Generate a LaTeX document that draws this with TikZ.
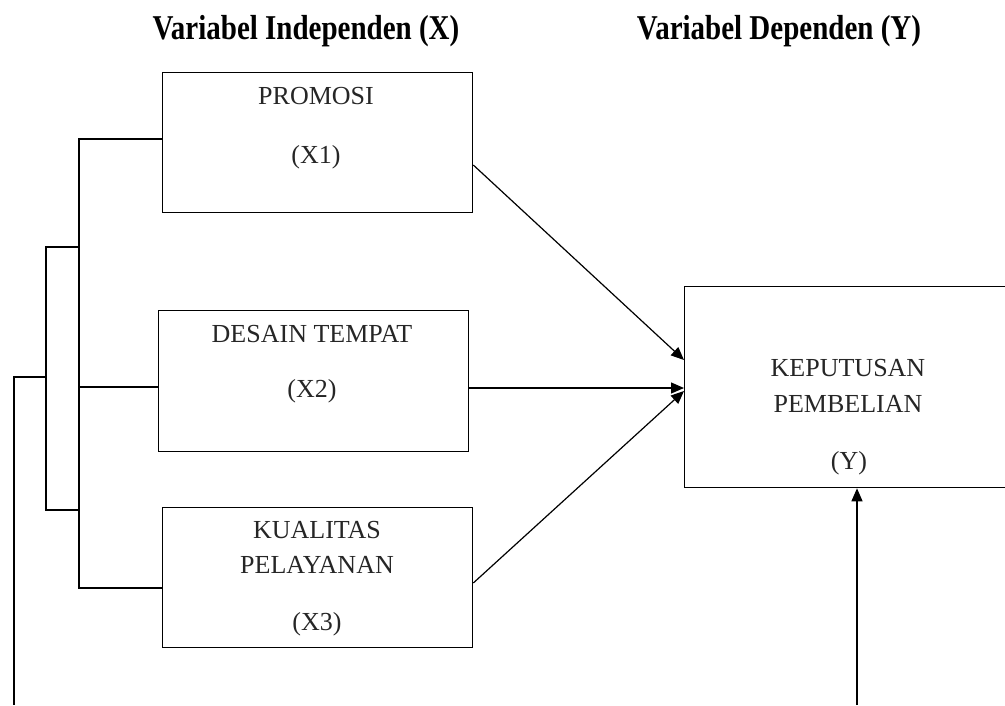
\documentclass[tikz,border=0pt]{standalone}
\usepackage{fontspec}
\setmainfont{Liberation Serif}
\usetikzlibrary{arrows.meta}
\begin{document}
\begin{tikzpicture}[x=1pt,y=-1pt,
  box/.style={draw=black,line width=1.3pt,inner sep=0pt,anchor=north west},
  lbl/.style={font=\fontsize{26}{30}\selectfont,inner sep=0pt,text=black!85},
  hdr/.style={font=\bfseries\fontsize{29}{32}\selectfont,inner sep=0pt},
  wire/.style={line width=1.2pt},
  arr/.style={line width=1.2pt,-{Triangle[length=13pt,width=11pt]}}]
\useasboundingbox (0,0) rectangle (1005,705);
\clip (0,0) rectangle (1005,705);
% headers
\node[hdr] (h1) at (306,31) {\scalebox{1}[1.2]{Variabel Independen (X)}};
\node[hdr] (h2) at (779,31) {\scalebox{1}[1.2]{Variabel Dependen (Y)}};
% boxes
\node[box,minimum width=310pt,minimum height=140pt] (b1) at (162,72) {};
\node[box,minimum width=310pt,minimum height=141pt] (b2) at (158,310) {};
\node[box,minimum width=310pt,minimum height=140pt] (b3) at (162,507) {};
\node[box,minimum width=340pt,minimum height=201pt] (by) at (684,286) {};
% labels
\node[lbl] (t1a) at (316,96) {PROMOSI};
\node[lbl] (t1b) at (316,157) {(X1)};
\node[lbl] (t2a) at (312,334) {DESAIN TEMPAT};
\node[lbl] (t2b) at (312,391) {(X2)};
\node[lbl] (t3a) at (317,530) {KUALITAS};
\node[lbl] (t3b) at (317,565) {PELAYANAN};
\node[lbl] (t3c) at (317,624) {(X3)};
\node[lbl] (tya) at (848,368) {KEPUTUSAN};
\node[lbl] (tyb) at (848,404) {PEMBELIAN};
\node[lbl] (tyc) at (849,463) {(Y)};
% bracket coordinates
\coordinate (c1) at (79,139);
\coordinate (c2) at (79,387);
\coordinate (c3) at (79,588);
\coordinate (d1) at (79,247);
\coordinate (d2) at (79,510);
\coordinate (e1) at (46,247);
\coordinate (e2) at (46,510);
\coordinate (e0) at (46,377);
\coordinate (f0) at (14,377);
\coordinate (f1) at (14,705);
\coordinate (g1) at (857,705);
% bracket lines
\draw[wire] (b1.west |- c1) -- (c1) -- (c3) -- (b3.west |- c3);
\draw[wire] (c2) -- (b2.west |- c2);
\draw[wire] (d1) -- (e1) -- (e2) -- (d2);
\draw[wire] (e0) -- (f0) -- (f1);
% arrows
\draw[arr] (b1.east |- 0,165) -- (by.west |- 0,360);
\draw[arr] (b2.east |- 0,388) -- (by.west |- 0,388);
\draw[arr] (b3.east |- 0,583) -- (by.west |- 0,391);
\draw[arr] (g1) -- (by.south -| g1);
\end{tikzpicture}
\end{document}
